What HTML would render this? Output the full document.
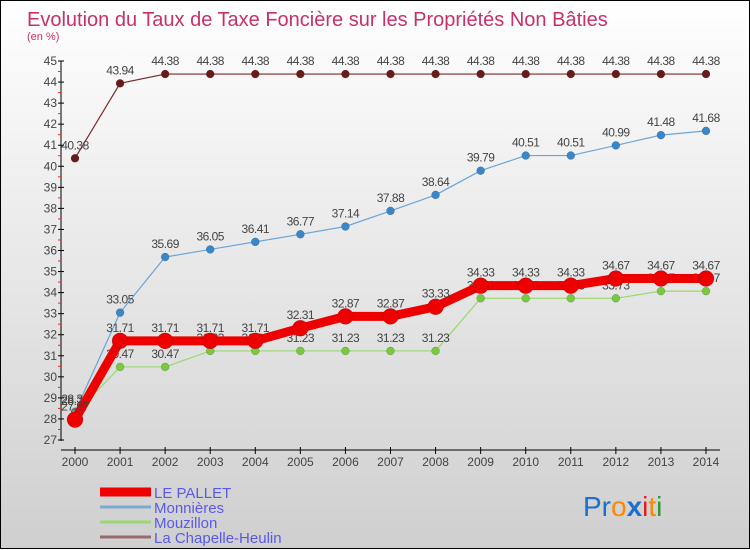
<!DOCTYPE html>
<html><head><meta charset="utf-8"><style>
body{margin:0;}
#wrap{position:relative;width:750px;height:550px;overflow:hidden;}
svg{display:block;font-family:"Liberation Sans",sans-serif;}
</style></head><body>
<div id="wrap">
<svg id="chart" width="750" height="550">
<defs><linearGradient id="bg" x1="0" y1="0" x2="0" y2="1"><stop offset="0" stop-color="#ffffff"/><stop offset="1" stop-color="#cfcfcf"/></linearGradient></defs>
<rect x="0.5" y="0.5" width="749" height="548" fill="url(#bg)" stroke="#000"/>
<text x="27" y="26" font-size="20" fill="#c8306a">Evolution du Taux de Taxe Foncière sur les Propriétés Non Bâties</text>
<text x="27" y="40" font-size="11" fill="#c8306a">(en %)</text>
<g id="axes"></g>
<g id="series"></g>
<g id="legend"></g>
<text x="583" y="516" font-size="28" font-family="'Liberation Sans',sans-serif"><tspan fill="#1a6fd0">Pr</tspan><tspan fill="#ff8800">o</tspan><tspan fill="#1a6fd0" font-weight="bold">x</tspan><tspan fill="#e02020">i</tspan><tspan fill="#ff8800">t</tspan><tspan fill="#2a9a3a">i</tspan></text>
</svg>
</div>
<script>
const years=[2000,2001,2002,2003,2004,2005,2006,2007,2008,2009,2010,2011,2012,2013,2014];
const pallet=[27.97,31.71,31.71,31.71,31.71,32.31,32.87,32.87,33.33,34.33,34.33,34.33,34.67,34.67,34.67];
const monnieres=[28.34,33.05,35.69,36.05,36.41,36.77,37.14,37.88,38.64,39.79,40.51,40.51,40.99,41.48,41.68];
const mouzillon=[28.24,30.47,30.47,31.23,31.23,31.23,31.23,31.23,31.23,33.73,33.73,33.73,33.73,34.07,34.07];
const chapelle=[40.38,43.94,44.38,44.38,44.38,44.38,44.38,44.38,44.38,44.38,44.38,44.38,44.38,44.38,44.38];
const yTicks=[27,28,29,30,31,32,33,34,35,36,37,38,39,40,41,42,43,44,45];
const names=["LE PALLET","Monnières","Mouzillon","La Chapelle-Heulin"];

const NS="http://www.w3.org/2000/svg";
const X=i=>75+i*(706-75)/(years.length-1);
const Y=v=>440-(v-27)*(440-61)/18;
function mk(t,a,p){const e=document.createElementNS(NS,t);for(const k in a)e.setAttribute(k,a[k]);p.appendChild(e);return e;}
const axes=document.getElementById('axes'),ser=document.getElementById('series'),leg=document.getElementById('legend');

const ya=mk('line',{x1:61,y1:61,x2:61,y2:441,stroke:'#000'},axes);


yTicks.forEach(v=>{
  mk('line',{x1:58,x2:64,y1:Y(v),y2:Y(v),stroke:'#000'},axes);
  if(v<45) mk('line',{x1:58,x2:61,y1:Y(v+0.5),y2:Y(v+0.5),stroke:'#e03030'},axes);
  const t=mk('text',{x:57,y:Y(v)+4,'font-size':12,fill:'#444','text-anchor':'end'},axes);t.textContent=v;
  
  
});
const xa=mk('line',{x1:61,y1:450,x2:720,y2:450,stroke:'#000'},axes);


years.forEach((y,i)=>{
  mk('line',{x1:X(i),x2:X(i),y1:447,y2:454,stroke:'#000'},axes);
  const t=mk('text',{x:X(i),y:466,'font-size':12,fill:'#444','text-anchor':'middle'},axes);t.textContent=y;
  
  
});

function draw(data,color,lw,r,dot,name){
  const g=mk('g',{},ser);
  
  
  mk('polyline',{points:data.map((v,i)=>X(i)+','+Y(v)).join(' '),fill:'none',stroke:color,'stroke-width':lw,'stroke-linejoin':'round'},g);
  data.forEach((v,i)=>{
    const c=mk('circle',{cx:X(i),cy:Y(v),r:r,fill:dot,stroke:'rgba(0,0,0,0.25)','stroke-width':0.5},g);
    
    
    const t=mk('text',{x:X(i),y:Y(v)-9,'font-size':12,fill:'#444','text-anchor':'middle','letter-spacing':'-0.5'},g);t.textContent=v.toFixed(2);
    
    
  });
}
draw(chapelle,'#7a2a2a',1.2,4,'#6a1a1a','series-la-chapelle-heulin');
draw(monnieres,'#6aa5d8',1.2,4,'#3a86c8','series-monnieres');
draw(mouzillon,'#9ad870',1.2,4,'#78c840','series-mouzillon');
draw(pallet,'#ee0000',9,8,'#ee0000','series-le-pallet');

const lc=['#ee0000','#7aaad0','#9ad870','#9a6a6a'],lw=[9,3,3,3];
names.forEach((n,i)=>{
  const y=492+i*15;
  const g=mk('g',{},leg);
  
  
  mk('line',{x1:100,x2:151,y1:y,y2:y,stroke:lc[i],'stroke-width':lw[i]},g);
  const t=mk('text',{x:154,y:y+6,'font-size':15,fill:'#5a5ae8'},g);t.textContent=n;
});
</script>
</body></html>
